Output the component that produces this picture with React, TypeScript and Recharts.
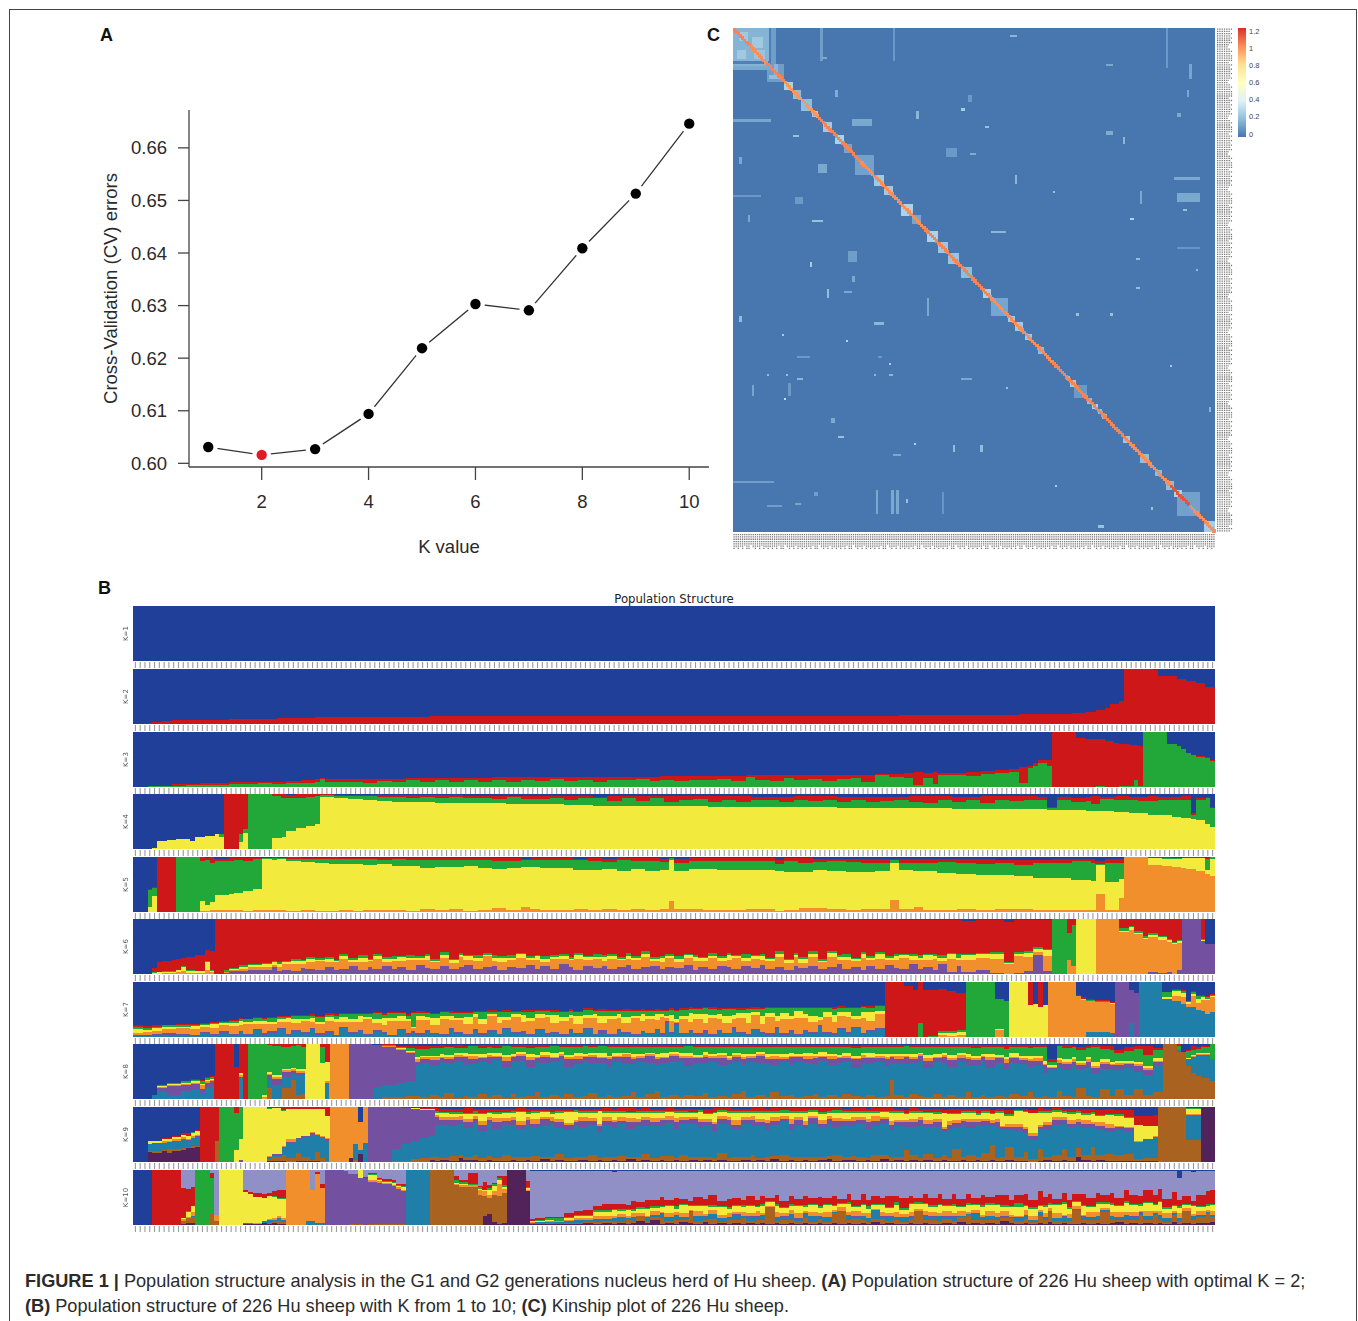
import React from "react";
import { ComposedChart, Line, XAxis, YAxis, BarChart, Bar, ScatterChart, Scatter, ReferenceArea } from "recharts";

// ---------- Panel A ----------
const kValues = [1, 2, 3, 4, 5, 6, 7, 8, 9, 10];
const cvErrors = [0.6031, 0.6016, 0.6027, 0.6094, 0.6219, 0.6303, 0.6291, 0.6409, 0.6513, 0.6646];
const bestK = 2;
const cvYTicks = [0.6, 0.61, 0.62, 0.63, 0.64, 0.65, 0.66];
const cvXTicks = [2, 4, 6, 8, 10];

// ---------- Panel B: each row = [first sample, heights bottom-up in %]; the top colour (blue) fills the rest ----------
const COLORS: Record<string, string> = { dark: "#52225a", brown: "#a9621f", teal: "#1f7fa9", purple: "#7451a0", orange: "#f28f2d", yellow: "#f2ea3c", green: "#21a838", red: "#cd1719", lav: "#9090c6", blue: "#1f3f99" };
const K1: number[][] = [[0]];
const K2: number[][] = [[0,0],[3,1],[4,3],[5,4],[6,5],[8,7],[14,8],[20,9],[25,10],[30,11],[38,12],[48,13],[62,14],[85,15],[160,16],[171,17],[185,18],[193,19],[196,20],[199,22],[201,25],[203,29],[204,37],[206,42],[207,100],[213,98],[214,87],[218,82],[220,79],[222,75],[224,68]];
const K3: number[][] = [[0,0,0],[3,1,0],[6,2,0],[8,1,4],[11,3,3],[14,4,3],[17,3,4],[20,6,3],[23,5,4],[26,7,3],[29,5,5],[32,7,4],[35,8,4],[38,10,4],[39,14,2],[40,9,5],[45,10,4],[48,8,7],[51,11,4],[54,9,6],[57,12,4],[60,10,6],[63,12,5],[66,10,7],[69,13,4],[72,10,7],[75,12,6],[78,9,9],[81,13,5],[84,11,7],[87,14,4],[90,11,8],[93,13,6],[96,10,9],[99,13,6],[102,12,7],[105,14,5],[108,11,8],[110,13,7],[113,11,9],[116,13,7],[119,12,8],[122,14,6],[125,11,9],[128,19,2],[130,13,8],[133,11,10],[136,16,5],[138,12,9],[141,14,7],[144,11,10],[147,14,7],[150,16,6],[152,10,12],[155,22,2],[158,19,5],[161,17,8],[163,3,24],[165,17,9],[167,5,22],[168,21,5],[171,22,4],[174,20,7],[177,23,6],[180,26,5],[183,28,5],[185,7,30],[187,34,5],[188,38,6],[189,43,6],[191,38,12],[192,0,100],[197,0,90],[199,0,87],[201,1,86],[203,0,84],[205,0,80],[206,2,77],[208,1,75],[209,12,65],[210,1,74],[211,100,0],[216,78,0],[218,75,0],[219,70,0],[220,62,0],[221,58,0],[222,55,2],[224,52,2],[225,48,2]];
const K4: number[][] = [[0,0,0,0],[4,1,0,0],[5,15,0,0],[7,17,0,0],[9,18,0,0],[11,19,0,0],[12,15,0,0],[13,22,0,0],[15,24,0,0],[17,27,0,0],[18,22,5,0],[19,0,0,100],[22,13,15,72],[23,29,7,64],[24,0,100,0],[29,20,77,3],[31,22,70,8],[32,33,60,5],[34,38,55,7],[36,41,53,6],[38,46,50,4],[39,94,4,2],[42,93,4,2],[45,91,5,3],[48,89,7,3],[51,87,7,4],[54,85,10,3],[57,85,8,5],[60,85,10,3],[63,84,8,6],[66,84,11,3],[69,84,8,5],[72,83,10,4],[75,83,8,6],[78,82,12,3],[81,82,9,6],[84,81,10,5],[87,81,12,4],[90,80,10,7],[93,80,12,5],[96,79,13,3],[99,79,9,8],[102,79,13,5],[105,78,9,10],[108,78,14,4],[111,78,8,10],[114,78,11,7],[117,78,13,6],[120,77,9,11],[123,77,13,7],[126,77,9,11],[129,77,12,6],[132,76,14,5],[135,76,10,9],[138,76,14,6],[141,76,11,9],[144,76,14,7],[147,75,10,10],[150,75,14,6],[153,75,11,9],[156,75,13,7],[159,74,16,5],[162,74,12,10],[165,74,10,12],[168,74,15,7],[171,73,12,10],[174,73,16,6],[177,73,11,12],[180,72,18,7],[183,72,16,8],[186,72,17,7],[189,72,18,5],[191,71,3,3],[193,71,18,6],[196,71,14,8],[199,70,17,7],[200,70,12,14],[202,69,22,4],[205,68,21,8],[208,66,24,5],[210,65,23,7],[212,62,26,8],[214,61,29,4],[217,59,30,6],[219,57,32,8],[221,54,8,3],[222,52,38,2],[224,46,46,2],[225,40,35,2]];
const K5: number[][] = [[0,0,0,0,0],[3,0,10,30,2],[4,0,30,13,2],[5,0,0,0,100],[9,0,0,100,0],[14,2,18,72,8],[15,2,10,83,3],[16,3,15,72,10],[17,3,28,62,3],[20,3,30,60,5],[21,3,32,60,4],[23,2,36,55,5],[25,3,38,55,3],[27,3,94,1,1],[29,3,92,3,2],[30,4,93,1,1],[32,2,91,4,3],[35,4,87,6,2],[38,2,87,8,2],[41,1,86,10,3],[43,4,83,10,2],[46,2,85,9,3],[48,4,82,10,3],[51,3,84,7,4],[54,4,80,12,3],[57,2,82,11,3],[60,5,75,14,4],[63,3,79,12,5],[66,6,75,13,4],[69,2,82,10,4],[72,3,77,15,3],[75,7,72,14,5],[78,3,77,13,5],[81,10,71,14,2],[83,6,75,13,4],[85,4,76,15,3],[89,3,77,14,5],[92,6,71,17,3],[95,4,73,16,5],[98,5,73,13,6],[101,4,71,19,4],[104,6,72,15,5],[107,4,71,18,5],[110,5,71,15,6],[112,20,75,3,1],[113,6,69,15,7],[116,6,72,15,5],[119,4,74,14,6],[122,4,72,17,5],[125,4,73,16,5],[128,6,71,16,6],[131,5,72,15,6],[134,2,73,12,8],[136,4,69,20,5],[139,7,65,18,8],[142,7,69,15,6],[145,6,69,17,4],[149,4,69,18,6],[152,6,67,17,7],[155,5,70,15,7],[158,22,68,4,3],[160,5,71,14,6],[163,9,65,16,7],[165,4,71,15,7],[168,4,67,20,5],[172,5,64,21,6],[176,3,65,20,8],[180,6,61,22,6],[184,5,61,20,9],[188,3,59,27,5],[192,3,59,28,6],[196,4,54,34,4],[200,4,53,33,6],[201,33,52,3,5],[203,4,50,36,6],[206,25,35,30,6],[207,100,0,0,0],[212,85,13,0,2],[215,83,14,1,2],[217,82,15,1,1],[219,80,18,0,2],[220,78,20,0,2],[222,74,24,0,2],[224,70,6,20,2],[225,66,30,4,0]];
const K6: number[][] = [[0,0,0,0,0,0],[4,0,0,2,1,8],[5,0,0,3,1,17],[6,0,2,2,1,18],[8,0,2,2,2,19],[9,0,3,4,1,20],[10,0,5,7,2,16],[11,0,2,4,1,24],[13,0,2,3,1,28],[15,0,8,14,1,20],[16,0,3,3,1,35],[17,0,0,0,0,100],[19,2,1,0,4,93],[20,5,3,1,2,89],[22,6,3,4,3,84],[24,8,4,4,2,82],[27,8,5,5,2,79],[29,12,5,4,3,74],[30,6,7,5,3,78],[31,8,10,4,2,75],[33,6,12,6,4,70],[35,11,8,4,2,74],[36,9,13,6,3,68],[38,7,16,3,4,70],[40,12,9,7,3,68],[42,8,13,3,2,72],[43,10,17,6,4,62],[45,14,8,4,3,70],[47,7,15,7,5,64],[49,12,11,3,2,70],[50,9,19,5,4,62],[52,15,7,6,3,68],[54,10,14,4,5,66],[55,13,10,8,2,66],[57,8,18,4,4,64],[59,16,9,5,3,66],[61,11,15,7,4,62],[62,9,12,3,3,72],[64,14,16,5,5,58],[66,10,10,6,2,70],[68,13,18,4,4,60],[69,17,8,7,3,64],[71,9,15,5,5,65],[73,12,20,3,3,60],[75,15,9,6,4,64],[76,8,14,8,3,66],[78,13,12,4,5,65],[80,11,19,6,2,60],[82,16,10,3,4,65],[84,9,16,7,3,63],[85,14,8,5,5,66],[87,10,17,4,3,64],[89,18,9,6,4,61],[91,12,13,3,3,67],[92,8,20,7,4,59],[94,15,11,5,2,65],[96,11,16,4,5,62],[98,14,9,8,3,64],[99,9,18,5,4,62],[101,13,12,3,3,67],[103,17,10,6,5,60],[104,10,15,4,3,66],[106,12,19,6,4,57],[108,15,8,5,3,67],[110,9,13,7,4,65],[111,13,17,3,3,62],[113,11,10,6,5,66],[115,16,14,4,3,61],[117,8,16,7,4,63],[118,13,11,5,2,67],[120,10,19,4,5,60],[122,15,9,6,3,65],[124,12,14,8,4,60],[125,9,20,3,3,63],[127,14,10,6,6,62],[129,11,16,5,3,63],[131,17,8,7,4,62],[132,10,13,4,3,68],[134,13,18,6,5,56],[136,8,12,5,3,70],[138,15,16,4,4,59],[139,11,9,8,3,67],[141,14,17,5,5,57],[143,9,12,3,3,71],[145,12,19,7,4,56],[147,18,8,5,3,64],[148,10,15,6,5,62],[150,13,10,4,3,68],[152,7,22,7,4,58],[153,14,11,5,3,65],[155,10,18,8,4,58],[157,16,9,4,3,66],[159,11,15,6,5,61],[160,9,20,5,3,61],[162,18,7,7,4,62],[164,10,16,4,5,63],[165,13,12,9,3,61],[167,7,20,6,3,62],[168,18,6,5,6,63],[170,4,24,8,3,59],[172,15,10,5,7,61],[173,4,22,8,3,60],[176,8,22,6,2,60],[179,2,25,10,3,58],[182,0,18,2,2,73],[184,2,30,5,3,58],[186,6,25,8,2,57],[188,35,5,5,5,48],[190,5,28,10,3,53],[192,0,0,0,100,0],[195,0,25,0,50,25],[196,0,15,0,75,10],[197,0,0,100,0,0],[201,0,100,0,0,0],[206,0,76,3,5,16],[208,0,80,5,3,12],[209,0,72,3,4,21],[211,0,63,3,3,31],[212,3,65,3,3,26],[214,2,60,5,3,30],[216,3,55,3,2,37],[217,0,54,2,2,42],[218,7,50,3,2,38],[219,100,0,0,0,0],[223,60,0,2,1,37],[224,55,0,0,0,0]];
const K7: number[][] = [[0,1,2,5,7,3,3],[2,1,2,7,3,4,3],[4,2,3,6,5,2,3],[6,4,3,8,3,3,1],[9,3,2,11,3,2,2],[12,2,2,10,6,2,2],[14,7,2,9,3,3,2],[16,4,2,11,6,3,1],[18,8,3,10,5,2,1],[20,3,2,15,5,4,2],[22,9,2,11,7,3,2],[23,3,3,18,3,5,1],[25,13,2,9,6,4,2],[27,4,3,16,7,3,2],[28,7,4,13,4,7,2],[30,15,2,10,5,4,2],[32,3,3,22,6,3,1],[33,10,3,12,8,5,2],[35,5,4,20,3,6,2],[37,14,2,11,8,4,2],[38,4,3,16,5,9,1],[40,8,3,19,7,3,3],[42,2,2,24,4,7,2],[43,16,3,9,9,4,2],[45,5,4,18,5,9,2],[47,11,2,15,10,3,2],[48,3,3,26,4,5,2],[50,9,3,14,6,11,2],[52,6,4,11,14,5,3],[53,2,2,25,5,9,2],[55,12,3,14,10,4,3],[57,4,3,22,4,6,2],[58,8,3,5,3,25,2],[59,3,4,24,8,5,3],[61,10,2,19,5,7,2],[62,5,3,14,13,6,3],[64,2,3,28,5,8,2],[66,13,3,15,7,6,3],[67,6,4,21,4,9,2],[69,3,2,18,14,6,3],[71,11,3,22,5,5,2],[72,4,3,16,10,12,2],[74,9,4,25,3,5,3],[76,2,3,20,12,8,2],[77,15,2,14,6,9,3],[79,5,4,27,5,5,2],[81,8,3,16,13,6,3],[82,3,2,24,6,11,3],[84,12,3,19,8,5,2],[86,4,4,28,4,7,3],[87,7,3,16,14,6,3],[89,2,3,25,7,9,2],[91,10,4,20,6,8,3],[92,5,2,16,15,7,2],[94,14,3,18,5,9,3],[96,3,3,29,6,6,2],[97,8,4,14,12,10,3],[99,4,2,26,7,8,3],[101,11,3,20,8,6,2],[102,6,4,15,11,12,3],[104,3,3,28,5,9,2],[106,9,2,18,13,6,3],[107,5,3,24,6,10,2],[109,12,3,16,10,7,3],[110,4,3,30,5,6,2],[111,26,3,5,5,9,2],[112,6,4,20,10,9,3],[113,22,3,2,5,16,2],[114,5,3,24,6,12,3],[116,10,2,16,15,8,3],[117,4,3,26,9,9,2],[119,8,4,14,16,10,2],[120,3,3,28,6,11,3],[122,11,2,20,9,8,3],[123,5,3,17,14,12,2],[125,14,4,15,7,11,2],[126,7,3,24,9,7,3],[128,3,3,20,17,8,2],[129,12,3,25,5,6,3],[131,6,4,14,15,12,2],[132,4,3,30,6,9,2],[134,15,3,12,8,14,3],[135,4,3,26,11,8,2],[137,9,4,20,6,13,3],[138,3,3,28,13,5,3],[140,11,2,22,7,10,3],[141,5,4,18,12,13,2],[143,18,3,10,6,15,3],[144,6,3,27,9,8,2],[146,4,3,20,13,11,3],[147,13,4,22,6,8,3],[149,6,3,28,8,7,3],[150,16,3,14,6,14,2],[152,5,3,27,10,9,3],[153,9,4,16,16,8,3],[155,14,3,24,6,9,3],[157,0,0,0,0,0,100],[161,0,0,0,0,0,93],[163,0,0,0,0,0,85],[164,0,0,0,0,26,74],[165,0,0,0,0,0,85],[166,0,0,0,0,2,83],[168,0,0,3,5,3,76],[170,0,0,2,5,4,73],[172,0,0,3,6,4,67],[174,0,0,0,0,100,0],[180,0,0,12,2,56,0],[182,0,0,0,0,65,0],[183,0,0,0,100,0,0],[187,0,0,0,58,0,42],[188,0,0,0,60,0,0],[189,0,0,0,55,0,45],[190,0,0,0,58,0,0],[191,0,0,100,0,0,0],[197,0,0,75,0,0,2],[198,0,0,68,1,1,2],[199,10,0,55,1,1,2],[201,10,0,53,1,1,2],[204,8,0,52,1,1,2],[205,0,100,0,0,0,0],[208,25,60,0,0,0,0],[209,0,80,0,0,0,0],[210,100,0,0,0,0,0],[215,70,0,0,2,10,0],[217,65,0,10,8,3,2],[219,60,0,12,8,3,2],[220,55,0,5,3,3,0],[221,55,0,20,4,2,2],[222,50,0,12,8,4,2],[223,47,0,20,5,3,2],[224,42,0,25,3,3,2],[225,45,0,28,2,2,2]];
const K8: number[][] = [[0,0,0,0,0,0,0,0],[4,0,8,0,0,0,0,0],[5,0,12,8,1,2,2,0],[7,0,5,18,2,2,2,0],[8,0,8,15,2,3,2,0],[10,0,15,10,2,3,3,0],[12,0,18,10,2,3,2,1],[14,0,10,8,8,2,5,2],[15,0,20,10,3,2,3,2],[16,0,22,10,3,2,3,2],[17,0,0,0,0,0,0,100],[21,0,0,0,0,0,0,58],[22,0,40,0,4,3,1,52],[23,0,0,0,0,0,0,100],[24,0,0,0,0,0,100,0],[27,0,0,0,3,5,92,0],[28,20,15,8,3,3,50,1],[29,0,25,12,3,4,53,3],[31,20,20,10,2,3,40,5],[33,35,10,6,4,2,40,3],[34,8,35,5,3,3,45,1],[35,10,35,3,3,4,40,5],[36,0,0,0,0,100,0,0],[39,0,0,0,0,65,30,5],[40,0,30,0,2,35,0,33],[41,0,0,0,100,0,0,0],[45,0,0,100,0,0,0,0],[50,0,22,76,0,0,0,0],[52,3,22,70,1,1,1,2],[55,4,26,60,1,2,1,3],[57,5,27,52,1,3,4,5],[59,5,56,7,4,4,15,5],[60,3,62,8,3,3,12,5],[62,8,52,11,5,3,14,4],[64,4,64,6,3,5,10,6],[65,11,54,8,4,3,14,3],[67,2,68,7,3,4,8,6],[69,6,56,14,3,5,9,4],[70,4,60,8,6,3,15,2],[72,10,58,6,3,4,12,5],[74,3,60,13,4,3,11,4],[75,7,64,5,3,5,9,5],[77,2,56,12,6,4,16,2],[79,9,60,7,3,3,13,3],[80,4,66,9,2,4,10,3],[82,6,52,13,5,5,12,5],[84,12,56,6,3,3,15,3],[85,3,62,11,4,5,10,3],[87,7,60,8,2,6,13,2],[89,4,68,6,4,3,9,4],[90,9,50,14,3,4,15,3],[92,3,60,9,6,5,12,3],[94,6,64,6,3,3,14,2],[95,11,54,11,4,4,10,4],[97,4,62,8,3,6,13,2],[99,8,50,14,4,3,16,3],[100,3,66,7,3,4,12,3],[102,6,58,12,5,3,10,4],[104,12,52,9,3,5,14,3],[105,4,64,6,4,4,13,3],[107,9,56,13,3,3,11,3],[109,14,48,10,5,4,14,3],[110,4,62,8,3,6,12,3],[112,7,60,11,4,3,10,3],[114,3,66,6,3,5,12,3],[115,8,52,14,5,4,13,2],[117,5,60,9,3,3,15,3],[119,11,54,11,4,6,9,3],[120,3,64,8,3,3,14,3],[122,6,56,12,6,4,11,3],[124,4,60,7,3,5,16,3],[125,9,58,10,3,3,12,3],[127,15,46,12,4,5,12,4],[128,4,64,7,3,4,13,3],[130,7,58,13,4,3,10,3],[132,3,62,8,3,6,12,4],[133,12,50,11,5,3,14,3],[135,5,62,6,4,4,14,3],[137,8,54,14,3,5,11,3],[138,3,64,9,3,3,13,3],[140,6,60,7,5,5,12,3],[142,10,52,13,3,3,14,3],[143,4,66,6,3,6,10,3],[145,7,54,12,5,4,13,3],[147,3,62,9,3,3,15,3],[148,9,58,7,4,5,12,3],[150,5,52,15,3,3,14,4],[152,4,62,8,6,4,11,3],[153,8,56,10,3,6,12,3],[155,3,64,7,4,3,13,4],[157,6,54,13,3,5,14,3],[158,34,32,10,3,3,12,4],[159,7,58,8,5,4,13,3],[161,4,60,12,3,3,14,3],[162,9,56,7,4,6,12,4],[164,5,64,9,3,3,10,4],[165,3,54,13,5,5,14,4],[167,10,58,6,3,4,13,4],[169,4,62,10,4,3,12,3],[170,7,52,12,3,6,15,3],[172,3,64,8,5,3,12,3],[174,12,50,11,3,5,13,4],[175,4,58,9,4,4,14,5],[177,8,62,6,3,3,12,4],[178,3,54,14,5,5,13,4],[180,6,60,8,3,3,14,4],[182,4,50,12,6,4,15,7],[183,9,56,9,3,6,12,3],[185,6,58,7,4,3,16,4],[187,13,46,11,3,5,14,6],[188,4,56,9,5,4,16,4],[190,6,42,13,3,6,24,4],[191,4,48,4,3,3,6,4],[193,14,42,10,5,3,22,2],[194,5,48,11,3,5,20,6],[196,4,56,7,6,3,18,2],[197,20,34,8,3,5,20,5],[199,6,50,12,5,4,16,3],[200,4,44,9,3,8,26,4],[202,18,36,10,4,5,18,5],[204,5,50,6,3,4,22,6],[205,18,34,10,3,4,14,6],[207,8,48,8,2,3,18,8],[209,18,32,10,3,4,24,5],[211,8,36,8,5,3,20,16],[213,13,48,6,3,5,15,2],[215,100,0,0,0,0,0,0],[218,85,4,0,0,0,8,3],[219,85,0,0,0,0,0,0],[220,60,12,0,0,2,14,2],[221,48,28,0,2,2,10,6],[222,42,38,0,1,2,8,4],[223,38,42,0,1,3,10,2],[225,32,40,0,0,0,28,0]];
const K9: number[][] = [[0,0,0,0,0,0,0,0,0],[3,18,2,12,0,1,6,0,0],[4,16,4,14,0,0,4,1,0],[6,20,1,14,0,4,2,1,1],[7,17,6,13,1,1,3,1,2],[8,20,4,14,1,2,4,1,2],[10,22,3,16,1,3,4,1,2],[11,26,1,12,1,1,6,1,4],[12,25,4,14,1,3,6,1,0],[13,27,3,16,2,1,7,1,2],[14,0,0,0,0,0,0,0,100],[17,0,38,0,0,0,0,0,62],[18,0,0,0,0,0,0,100,0],[21,0,0,0,0,0,22,68,10],[22,0,0,0,3,0,38,59,0],[23,0,0,0,0,0,100,0,0],[28,1,5,2,1,2,86,1,2],[29,2,8,3,1,1,84,0,1],[31,1,12,12,2,3,62,2,6],[32,0,8,26,3,4,55,0,4],[34,1,15,25,2,1,52,0,4],[35,1,9,36,1,1,48,0,4],[37,1,3,46,2,3,41,0,4],[38,1,18,30,1,1,45,0,4],[39,0,8,35,2,3,48,0,4],[40,0,2,37,2,3,40,0,16],[41,0,0,0,0,100,0,0,0],[45,8,0,0,0,92,0,0,0],[46,0,3,30,0,67,0,0,0],[47,14,0,8,0,50,0,0,0],[48,0,0,35,0,65,0,0,0],[49,0,0,0,100,0,0,0,0],[54,0,1,22,77,0,0,0,0],[56,0,2,30,66,1,0,0,1],[58,0,5,33,58,1,1,0,1],[60,0,8,36,50,1,1,1,2],[62,3,6,38,47,1,1,0,4],[63,2,8,58,14,3,5,3,5],[64,3,5,60,9,5,7,2,6],[66,1,10,54,12,4,6,4,6],[68,8,4,58,7,6,5,3,6],[69,3,7,52,10,7,9,2,8],[71,4,9,58,8,4,5,4,5],[72,2,5,50,11,6,13,3,7],[74,3,8,60,6,5,7,2,6],[75,2,6,52,12,8,8,3,6],[77,1,11,56,7,5,9,2,5],[79,4,5,58,9,6,7,4,4],[80,2,8,50,8,7,16,2,5],[82,3,6,58,10,5,6,3,6],[83,1,10,52,7,8,12,3,3],[85,5,5,56,12,4,9,2,4],[87,2,7,60,6,6,6,4,6],[88,3,11,48,10,7,11,2,5],[90,1,6,52,8,4,20,2,3],[92,2,7,58,5,5,14,3,2],[93,4,6,54,11,6,8,3,4],[95,2,10,56,7,5,10,2,5],[97,3,5,46,12,4,22,0,4],[98,1,8,58,8,7,7,4,5],[100,4,6,52,10,5,12,3,4],[101,2,9,58,6,6,8,3,6],[103,5,5,50,12,8,9,2,7],[105,2,7,56,8,5,11,4,4],[106,3,11,52,10,6,7,3,6],[108,1,6,60,6,7,10,2,5],[110,4,7,54,11,4,9,3,5],[111,2,9,60,6,6,8,2,5],[113,3,5,52,12,8,9,3,5],[114,1,12,56,7,5,8,4,4],[116,3,6,60,9,4,7,2,6],[118,2,8,52,10,7,12,3,3],[119,4,5,58,6,5,9,3,7],[121,1,7,48,14,3,16,2,8],[122,3,13,54,8,6,7,3,4],[124,2,6,58,11,5,8,2,6],[125,1,9,50,8,8,13,3,5],[127,4,6,60,7,4,8,4,4],[129,2,10,54,11,6,7,3,5],[130,3,5,58,6,7,11,2,6],[132,1,8,50,12,5,14,3,4],[133,5,6,56,8,6,9,3,5],[135,2,11,60,6,4,7,4,4],[137,3,6,50,11,8,12,2,6],[138,1,9,58,8,5,8,3,6],[140,4,5,52,7,6,16,3,5],[141,2,8,60,10,4,7,4,3],[143,3,6,54,6,7,12,3,7],[145,6,5,58,9,5,7,2,6],[146,2,11,50,11,6,10,4,4],[148,3,6,58,7,4,11,3,5],[150,4,7,54,10,7,8,3,5],[151,1,9,60,6,5,9,2,6],[153,3,5,52,12,6,11,3,4],[154,2,10,56,7,8,6,4,5],[156,6,6,58,8,4,9,2,5],[158,2,8,48,10,6,16,3,5],[159,3,6,56,7,5,12,3,5],[161,1,20,42,10,4,10,2,6],[162,4,8,52,8,7,11,3,5],[164,2,6,58,11,4,8,4,4],[165,3,12,48,7,6,13,2,6],[167,1,7,56,9,5,10,3,5],[169,3,9,42,6,3,26,0,6],[170,2,6,50,10,6,14,2,7],[171,1,22,40,8,6,10,3,6],[173,3,7,58,7,4,10,3,5],[174,2,10,50,10,6,12,2,5],[176,4,6,58,5,5,8,4,6],[177,2,14,50,8,4,12,3,4],[179,3,28,34,6,5,12,2,5],[180,2,6,56,9,6,11,3,4],[181,1,8,50,4,3,24,3,3],[182,3,25,30,6,5,15,3,7],[184,2,7,48,7,6,22,2,3],[186,1,18,34,7,3,28,1,5],[187,0,6,34,8,4,38,0,5],[189,2,22,36,4,4,22,2,6],[190,3,6,50,8,5,18,3,4],[192,1,12,54,9,5,10,4,4],[194,3,20,46,8,4,8,3,4],[195,2,8,54,6,7,11,3,6],[197,9,16,42,6,5,12,3,4],[198,3,10,48,9,6,10,3,7],[200,2,26,36,5,4,14,4,6],[201,3,9,46,8,6,12,2,9],[203,1,14,40,6,8,16,2,9],[205,2,10,46,5,3,18,3,8],[207,1,14,42,4,3,16,2,12],[209,1,4,32,0,2,28,1,16],[211,1,6,34,0,1,24,0,18],[213,2,5,38,0,2,18,0,20],[214,0,100,0,0,0,0,0,0],[220,0,40,46,0,2,9,1,0],[223,100,0,0,0,0,0,0,0]];
const K10: number[][] = [[0,0,0,0,0,0,0,0,0,0],[4,0,0,0,0,0,0,0,100,0],[10,2,6,0,0,3,2,0,55,32],[11,3,10,0,0,2,8,2,40,35],[12,4,10,2,0,8,10,0,35,31],[13,0,0,0,0,0,0,100,0,0],[16,0,20,0,0,0,0,65,10,5],[17,0,8,0,0,10,0,0,0,82],[18,0,0,0,0,0,100,0,0,0],[23,1,1,2,0,0,56,0,4,36],[24,2,1,0,0,0,54,0,3,40],[25,1,0,0,0,2,48,0,7,42],[27,3,1,3,0,1,42,0,6,44],[28,2,2,5,0,2,42,0,6,41],[29,3,3,4,0,3,38,1,10,38],[30,2,5,6,0,3,32,1,14,37],[31,2,3,4,0,3,36,1,14,37],[32,0,0,0,0,100,0,0,0,0],[36,0,0,8,0,92,0,0,0,0],[37,0,0,8,0,55,0,0,0,37],[38,0,0,3,0,90,0,0,3,4],[39,0,0,4,0,64,0,0,7,25],[40,0,0,0,100,0,0,0,0,0],[44,0,0,0,98,0,0,0,0,2],[45,0,1,0,92,0,0,0,0,7],[47,0,1,0,84,0,15,0,0,0],[48,0,0,0,85,0,1,0,1,13],[49,0,1,0,78,2,10,1,3,5],[51,0,1,0,76,3,2,1,3,14],[52,0,1,0,73,3,2,1,4,16],[54,0,2,0,69,2,4,2,3,18],[55,0,1,0,65,3,2,1,3,25],[56,0,1,0,60,3,6,1,3,26],[57,0,0,100,0,0,0,0,0,0],[62,0,100,0,0,0,0,0,0,0],[67,0,72,0,0,2,2,6,8,10],[68,0,70,0,0,3,1,5,2,19],[70,0,70,0,0,2,1,1,20,6],[72,0,55,0,0,8,3,3,2,29],[73,16,37,0,0,8,3,0,15,21],[74,20,30,0,0,4,10,4,5,27],[75,5,50,0,0,6,10,3,3,23],[76,2,50,0,0,22,8,4,3,11],[77,3,55,0,0,8,3,4,16,11],[78,100,0,0,0,0,0,0,0,0],[82,62,0,0,0,2,4,2,10,20],[83,1,1,1,0,2,2,0,4,87],[84,2,0,3,0,1,2,1,3,86],[86,1,2,2,0,2,2,3,3,83],[88,1,1,3,0,2,1,4,3,83],[90,2,1,4,0,3,3,2,6,77],[92,2,2,5,0,3,4,3,7,72],[94,3,3,4,0,2,5,2,8,71],[96,2,4,5,0,6,6,4,8,63],[98,3,4,3,1,5,8,4,11,59],[100,2,5,5,1,4,10,2,10,58],[101,4,2,8,0,6,6,3,9,60],[103,2,7,3,1,3,12,2,7,61],[104,3,4,6,1,7,5,4,14,54],[105,7,9,1,0,4,9,3,8,57],[107,4,3,6,1,3,12,2,15,52],[108,9,6,4,0,6,6,4,11,52],[110,2,10,8,1,3,9,2,16,47],[111,4,4,5,1,8,12,3,8,53],[113,2,8,9,0,4,7,4,15,49],[114,5,5,4,1,7,14,2,10,50],[116,3,20,2,0,3,6,3,7,54],[117,2,6,8,1,9,9,2,14,47],[119,6,4,5,1,4,14,3,11,50],[120,2,9,9,0,7,6,4,17,44],[122,3,3,6,1,6,13,2,9,55],[124,1,8,4,1,8,8,3,15,50],[125,4,5,10,1,3,12,2,12,49],[127,2,11,3,0,7,9,4,10,52],[128,3,4,8,1,5,14,2,16,45],[130,2,7,6,1,9,7,3,11,52],[131,4,5,9,0,4,13,3,15,45],[132,2,30,0,0,3,6,2,6,49],[134,3,4,7,1,8,12,3,16,44],[135,1,9,5,1,5,10,2,11,54],[137,4,6,10,0,7,7,4,15,45],[138,2,5,4,1,9,14,2,10,51],[140,3,10,7,1,4,8,3,17,45],[141,1,5,10,0,8,12,2,11,49],[143,4,7,4,1,6,9,4,16,47],[144,2,4,8,1,9,13,2,10,49],[146,3,18,2,0,4,7,3,15,46],[147,1,24,1,0,6,6,2,8,50],[149,4,5,9,1,5,14,3,16,41],[150,2,9,4,1,9,8,2,11,52],[152,3,6,8,0,5,14,3,17,42],[153,1,5,6,1,8,9,4,12,52],[154,5,6,16,0,3,7,2,14,45],[156,2,9,4,1,7,13,3,10,49],[157,3,4,8,1,6,9,2,19,46],[159,2,7,5,1,9,13,4,12,45],[160,1,5,9,0,5,8,3,19,48],[162,4,7,4,1,8,14,2,12,46],[163,2,24,0,0,4,9,3,8,48],[165,3,6,8,1,7,13,2,17,41],[166,1,9,5,1,8,8,4,13,49],[168,2,5,9,0,5,15,3,18,41],[169,4,7,4,1,9,9,2,11,51],[171,2,6,7,1,6,12,4,19,41],[172,5,9,3,0,8,8,2,13,50],[174,2,16,2,0,4,13,3,16,42],[175,3,6,11,1,7,8,2,12,48],[177,1,8,5,1,4,14,3,19,43],[178,4,5,8,0,9,10,4,11,47],[180,2,7,5,1,6,15,2,16,44],[181,7,5,3,1,9,8,3,19,43],[183,3,9,2,0,5,13,2,11,53],[184,2,6,5,1,3,16,7,14,44],[186,3,8,7,1,8,8,2,19,42],[187,1,5,4,0,6,14,3,13,52],[189,4,13,6,0,4,8,2,24,37],[190,2,8,3,1,7,12,3,15,47],[191,6,18,1,1,5,6,3,16,42],[192,2,5,6,0,9,14,2,10,50],[194,4,2,9,1,3,20,2,17,40],[195,2,5,5,0,8,9,4,13,52],[196,2,26,1,0,6,7,2,12,42],[198,3,7,5,1,3,15,3,20,41],[199,1,9,3,1,9,10,2,14,49],[201,4,5,8,0,6,15,3,18,39],[202,2,22,3,0,4,8,2,14,43],[204,3,7,6,1,7,13,3,19,39],[205,5,5,4,1,9,10,2,14,48],[207,2,8,9,0,5,16,3,20,36],[208,3,6,6,1,8,12,2,16,44],[210,2,16,4,1,3,9,4,13,46],[211,4,5,8,0,8,15,2,21,35],[213,1,18,2,0,5,10,3,16,43],[214,3,6,8,1,7,16,2,22,34],[215,2,4,6,0,9,9,3,14,51],[217,5,14,3,0,4,8,2,24,38],[218,2,6,4,1,8,10,3,12,40],[219,3,22,1,0,5,5,2,14,46],[221,2,7,7,1,3,14,3,6,54],[222,4,10,3,1,7,8,2,20,43],[224,3,18,2,0,5,7,3,24,36],[225,5,10,4,0,7,10,2,26,34]];
const panelRows = [K1, K2, K3, K4, K5, K6, K7, K8, K9, K10];
const panelKeys = [[],["red"],["green","red"],["yellow","green","red"],["orange","yellow","green","red"],["purple","orange","yellow","green","red"],["teal","purple","orange","yellow","green","red"],["brown","teal","purple","orange","yellow","green","red"],["dark","brown","teal","purple","orange","yellow","green","red"],["dark","brown","teal","purple","orange","yellow","green","red","lav"]];
const panelLabels = ["K=1","K=2","K=3","K=4","K=5","K=6","K=7","K=8","K=9","K=10"];
const panelTops = [606, 669, 732, 794, 857, 919, 982, 1044, 1107, 1170];
const SAMPLES = 226;

function expand(rows: number[][], keys: string[]) {
  const out: any[] = [];
  let r = 0;
  for (let i = 0; i < SAMPLES; i++) {
    while (r + 1 < rows.length && rows[r + 1][0] <= i) r++;
    const row: any = { i };
    let sum = 0;
    keys.forEach((k, j) => { const v = rows[r][j + 1] || 0; row[k] = v; sum += v; });
    if (sum > 100) { keys.forEach((k) => { row[k] = row[k] * 100 / sum; }); sum = 100; }
    row.blue = 100 - sum;
    out.push(row);
  }
  return out;
}

// ---------- Panel C: kinship blocks in sample units ----------
const diagBlocks = [[0,17,.17],[16,24,.11],[24,28,.27],[28,32,.2],[32,37,.2],[37,40,.24],[42,46.5,.24],[48,52,.27],[52,56,.13],[57,66,.12],[66,71,.24],[71,75,.24],[79,84.5,.27],[84,88,.13],[91,96,.27],[96,101,.23],[101,106,.22],[107,112,.2],[117,121,.27],[121,129,.13],[129,132,.24],[132,136,.24],[137,140,.24],[143,146,.2],[156,158,.2],[158,161,.24],[160,166,.1],[166,168.5,.2],[168.5,171,.27],[171,173,.2],[173,175.5,.2],[183,186,.24],[191,195,.2],[198,201,.2],[203,207,.2],[208,219,.12],[207,210.5,.27],[221,226,.25]];
const spots = [[3,7,2,6,.24],[9,14,4,9,.24],[2,6,10,14,.24],[10,15,10,14,.22],[0,17,15,16,.03],[17,20,0,16,.11],[0,17,17,19,.14],[17,18,0,16,.02],[19,21,16,22,.18],[17,22,21,23,.2],[41,42,0,15,.11],[75,75.8,0,15,.1],[41.7,44,13,14,.14],[0,18,41,42,.13],[48,49,28,31,.15],[56,65,41,44,.14],[86,87,37,41,.18],[107,109,36,37,.25],[118,120,44,45,.21],[28,31,48,49,.21],[40,44,61,65,.14],[3,4,58,61,.14],[0,13,75,76,.1],[37,42,86,87,.21],[7,8,84,87,.14],[29,33,76,79,.1],[121,128,91,92,.18],[36,37,105,107,.25],[54,58,100,105,.11],[110,112,30,33,.1],[132,133,66,70,.18],[130,133,3,4,.18],[100,105,54,58,.1],[111,114,56,57,.15],[203,204,0,18,.1],[214,215,16,23,.13],[213,214,28,31,.14],[175,178,16,17,.14],[175,178,46,48,.15],[183,184,49,52,.18],[208,210,38,40,.14],[3,4,129,132,.2],[44,45,117,121,.2],[91,92,121,129,.14],[66,71,132,133,.18],[53,54,140,141,.28],[23,24,137,138,.25],[24,25,166,167,.32],[26,27,159,165,.1],[30,33,157,158,.18],[9,10,160,165,.13],[46,48,175,177,.14],[49,52,183,184,.21],[85,86,186,187,.28],[103,104,187,190,.2],[116,117,187,190,.2],[75,79,191,192,.14],[0,19,203,204,.11],[67,68,207,218,.14],[74,75.5,207,218,.14],[76.5,78,207,218,.14],[81,82,211,213,.21],[38,40,208,210,.11],[29,32,213,214,.13],[16,23,214,215,.11],[98,99,208,218,.09],[68,70,147,148,.1],[30,36,147,148,.1],[73,74,150,151,.25],[16,17,155,156,.2],[25,26,155,156,.2],[66,67,155,156,.18],[73,75,155,156,.18],[107,112,157,158,.14],[56,57,111,114,.14],[52,56,118,119,.14],[207,219,67,68,.14],[208,219,74,78,.14],[211,213,81,82,.21],[186,188,85,86,.28],[189,191,103,104,.2],[189,191,116,117,.2],[191,192,73,79,.14],[208,219,98,99,.09],[217,218,108,109,.18],[223,224,170,172,.18],[205,206,151,152,.25],[128,129,161,162,.21],[161,162,128,129,.21],[177,178,128,129,.21],[150,151,73,74,.21],[151,152,205,206,.25],[171,174,223,224,.21],[196,197,215,216,.21]];
const diagRuns = [[0,1.02],[8,1.0],[16,1.02],[24,.98],[40,1.02],[60,1.0],[90,1.02],[120,1.0],[150,1.02],[185,1.0],[205,1.12],[214,1.0]];
const labelLens = [16,14,15,13,16,12,15,16,11,14,16,13,15,12,16,14];
const legendTicks = [0, 0.2, 0.4, 0.6, 0.8, 1, 1.2];
const legendStops = ["#4575b4","#91bfdb","#e0f3f8","#ffffbf","#fee090","#fc8d59","#d73027"];
const legendRange = [{ v: [-0.035, 1.235] }];

const hex = (c: string) => [1, 3, 5].map((p) => parseInt(c.slice(p, p + 2), 16));
function heat(v: number) {
  const t = Math.min(1, Math.max(0, v / 1.2)) * (legendStops.length - 1);
  const i = Math.min(legendStops.length - 2, Math.floor(t));
  const a = hex(legendStops[i]), b = hex(legendStops[i + 1]);
  return `rgb(${a.map((x, j) => Math.round(x + (b[j] - x) * (t - i))).join(",")})`;
}
const sampleCentres = Array.from({ length: SAMPLES }, (_, i) => i + 0.5);
const diagData = sampleCentres.map((c, i) => {
  let v = diagRuns[0][1];
  diagRuns.forEach((r) => { if (r[0] <= i) v = r[1]; });
  return { x: c, y: c, v };
});

const SANS = "'Liberation Sans', Arial, sans-serif";
const DEJA = "'DejaVu Sans', sans-serif";

const PlainTick = ({ x, y }: any) => <line x1={x} x2={x} y1={y + 1} y2={y + 7} stroke="#9a9a9a" strokeWidth={1.1} />;
const BottomLabelTick = ({ x, y, index }: any) => <line x1={x} x2={x} y1={y + 2} y2={y + 2 + labelLens[(index || 0) % labelLens.length]} stroke="#777" strokeWidth={1.3} strokeDasharray="1.3 1" />;
const RightLabelTick = ({ x, y, index }: any) => <line x1={x + 2} x2={x + 2 + labelLens[((index || 0) * 3) % labelLens.length]} y1={y} y2={y} stroke="#777" strokeWidth={1.3} strokeDasharray="1.3 1" />;

function CvDot(props: any) {
  const { cx, cy, payload } = props;
  return (
    <g>
      <circle cx={cx} cy={cy} r={9.5} fill="#fff" />
      <circle cx={cx} cy={cy} r={5.2} fill={payload.k === bestK ? "#e01b24" : "#000"} />
    </g>
  );
}
const DiagCell = (props: any) => {
  const { cx, cy, payload } = props;
  return <rect x={cx - 1.7} y={cy - 1.7} width={3.4} height={3.4} fill={heat(payload.v)} />;
};

function PanelA() {
  const data = kValues.map((k, i) => ({ k, e: cvErrors[i] }));
  const tick = { fontFamily: SANS, fontSize: 18.5, fill: "#2a2a2a" };
  return (
    <div style={{ position: "absolute", left: 90, top: 100 }}>
      <ComposedChart width={630} height={457} data={data} margin={{ top: 10, right: 11, left: 0, bottom: 0 }}>
        <XAxis dataKey="k" type="number" domain={[0.64, 10.37]} ticks={cvXTicks} height={90} tickSize={13} tickMargin={15} stroke="#444" strokeWidth={1.3} tick={tick} allowDataOverflow
          label={{ value: "K value", position: "insideBottom", offset: 4, style: { fontFamily: SANS, fontSize: 18.5, fill: "#2a2a2a" } }} />
        <YAxis type="number" domain={[0.5993, 0.6672]} ticks={cvYTicks} width={99} tickSize={11} tickMargin={11} stroke="#444" strokeWidth={1.3} tick={tick} tickFormatter={(v: number) => v.toFixed(2)} allowDataOverflow
          label={{ value: "Cross-Validation (CV) errors", angle: -90, position: "insideLeft", offset: 20, style: { textAnchor: "middle", fontFamily: SANS, fontSize: 18.5, fill: "#2a2a2a" } }} />
        <Line dataKey="e" stroke="#333" strokeWidth={1.3} isAnimationActive={false} dot={<CvDot />} />
      </ComposedChart>
    </div>
  );
}

function PanelB() {
  return (
    <div style={{ position: "absolute", left: 0, top: 0, filter: "blur(0.4px)" }}>
      {panelRows.map((rows, p) => {
        const keys = panelKeys[p];
        const data = expand(rows, keys);
        return (
          <div key={p} style={{ position: "absolute", left: 110, top: panelTops[p] }}>
            <BarChart width={1105} height={63} data={data} barCategoryGap={0} barGap={0} margin={{ top: 0, right: 0, bottom: 0, left: 0 }}>
              <XAxis dataKey="i" type="category" interval={0} height={8} axisLine={false} tickLine={false} tickSize={0} tickMargin={0} tick={<PlainTick />} />
              <YAxis type="number" domain={[0, 100]} width={23} axisLine={false} tickLine={false} tick={false}
                label={{ value: panelLabels[p], angle: -90, position: "insideLeft", offset: 16, style: { textAnchor: "middle", fontFamily: DEJA, fontSize: 7, fill: "#555" } }} />
              {[...keys, "blue"].map((k) => (
                <Bar key={k} dataKey={k} stackId="q" fill={COLORS[k]} isAnimationActive={false} />
              ))}
            </BarChart>
          </div>
        );
      })}
    </div>
  );
}

function PanelC() {
  return (
    <>
      <div style={{ position: "absolute", left: 733, top: 28, filter: "blur(0.5px)" }}>
        <ScatterChart width={500} height={522} margin={{ top: 0, right: 0, bottom: 0, left: 0 }}>
          <XAxis dataKey="x" type="number" domain={[0, SAMPLES]} ticks={sampleCentres} interval={0} height={18} axisLine={false} tickLine={false} tickSize={0} tickMargin={0} tick={<BottomLabelTick />} />
          <YAxis dataKey="y" type="number" reversed orientation="right" domain={[0, SAMPLES]} ticks={sampleCentres} interval={0} width={18} axisLine={false} tickLine={false} tickSize={0} tickMargin={0} tick={<RightLabelTick />} />
          <ReferenceArea x1={0} x2={SAMPLES} y1={0} y2={SAMPLES} fill="#4877af" fillOpacity={1} stroke="none" />
          {diagBlocks.map((b, i) => (
            <ReferenceArea key={"d" + i} x1={b[0]} x2={b[1]} y1={b[0]} y2={b[1]} fill={heat(b[2])} fillOpacity={1} stroke="none" />
          ))}
          {spots.map((s, i) => (
            <ReferenceArea key={"s" + i} x1={s[0]} x2={s[1]} y1={s[2]} y2={s[3]} fill={heat(s[4])} fillOpacity={1} stroke="none" />
          ))}
          <Scatter data={diagData} isAnimationActive={false} shape={<DiagCell />} />
        </ScatterChart>
      </div>
      <div style={{ position: "absolute", left: 1238, top: 28 }}>
        <BarChart width={34} height={114} data={legendRange} barCategoryGap={0} margin={{ top: 0, right: 0, bottom: 5, left: 0 }}>
          <defs>
            <linearGradient id="legendGrad" x1="0" y1="1" x2="0" y2="0">
              {legendStops.map((c, i) => <stop key={c} offset={`${(i / (legendStops.length - 1)) * 100}%`} stopColor={c} />)}
            </linearGradient>
          </defs>
          <XAxis hide />
          <YAxis type="number" orientation="right" domain={[-0.035, 1.235]} ticks={legendTicks} interval={0} width={26} axisLine={false} tickLine={false} tickSize={0} tickMargin={3} tick={{ fontFamily: SANS, fontSize: 7.5, fill: "#444" }} />
          <Bar dataKey="v" fill="url(#legendGrad)" isAnimationActive={false} />
        </BarChart>
      </div>
    </>
  );
}

const letter = (t: string, left: number, top: number) => (
  <div style={{ position: "absolute", left, top, fontFamily: SANS, fontWeight: 700, fontSize: 18, lineHeight: "20px", color: "#111" }}>{t}</div>
);
const capLine: React.CSSProperties = { position: "absolute", left: 25, fontFamily: SANS, fontSize: 18.17, lineHeight: "22px", color: "#2b2b2b", whiteSpace: "nowrap" };

export default function App() {
  return (
    <div style={{ position: "absolute", left: 0, top: 0, width: 1358, height: 1321, background: "#fff", overflow: "hidden" }}>
      <style>{`rect, path.recharts-rectangle { shape-rendering: crispEdges; }`}</style>
      <div style={{ position: "absolute", left: 9, top: 9, width: 1346, height: 1330, border: "1px solid #444", boxSizing: "content-box" }} />
      {letter("A", 100, 25)}
      {letter("C", 707, 25)}
      {letter("B", 98, 578)}
      <PanelA />
      <PanelC />
      <div style={{ position: "absolute", left: 474, width: 400, top: 592, textAlign: "center", fontFamily: DEJA, fontSize: 11.7, lineHeight: "14px", color: "#222" }}>Population Structure</div>
      <PanelB />
      <div style={{ ...capLine, top: 1270 }}><b>FIGURE 1 |</b> Population structure analysis in the G1 and G2 generations nucleus herd of Hu sheep. <b>(A)</b> Population structure of 226 Hu sheep with optimal K = 2;</div>
      <div style={{ ...capLine, top: 1295 }}><b>(B)</b> Population structure of 226 Hu sheep with K from 1 to 10; <b>(C)</b> Kinship plot of 226 Hu sheep.</div>
    </div>
  );
}
